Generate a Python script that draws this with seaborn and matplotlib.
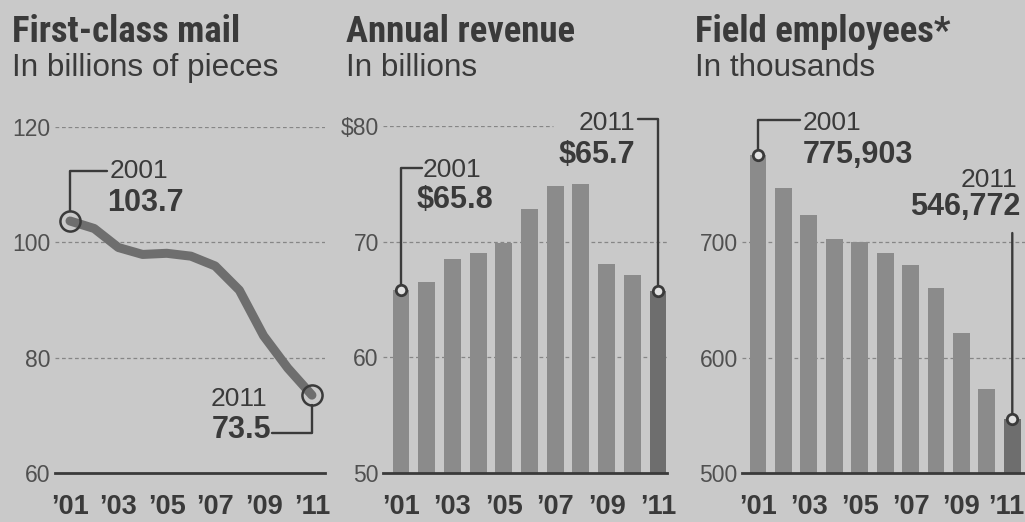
import matplotlib
matplotlib.use("Agg")
import matplotlib.pyplot as plt
import matplotlib.transforms as mtransforms
from matplotlib import font_manager as fm
import seaborn as sns
import pandas as pd

# ---------------- data ----------------
years = list(range(2001, 2012))
first_class_mail = [103.7, 102.4, 99.1, 97.9, 98.1, 97.6, 95.9, 91.7, 83.8, 78.2, 73.5]
annual_revenue = [65.8, 66.5, 68.5, 69.0, 69.9, 72.8, 74.8, 75.0, 68.1, 67.1, 65.7]
field_employees = [775.9, 747.0, 724.0, 702.5, 700.0, 691.0, 680.5, 660.0, 621.0, 572.5, 546.8]

year_tick_labels = ["\u201901", "\u201903", "\u201905", "\u201907", "\u201909", "\u201911"]
titles = ["First-class mail", "Annual revenue", "Field employees*"]
subtitles = ["In billions of pieces", "In billions", "In thousands"]

mail_ticks = [60, 80, 100, 120]
mail_tick_labels = ["60", "80", "100", "120"]
rev_ticks = [50, 60, 70, 80]
rev_tick_labels = ["50", "60", "70", "$80"]
emp_ticks = [500, 600, 700]
emp_tick_labels = ["500", "600", "700"]

mail_callouts = [("2001", "103.7"), ("2011", "73.5")]
rev_callouts = [("2001", "$65.8"), ("2011", "$65.7")]
emp_callouts = [("2001", "775,903"), ("2011", "546,772")]

# ---------------- style ----------------
sns.set_theme(style="white")
avail = {f.name for f in fm.fontManager.ttflist}


def pick(names):
    for n in names:
        if n in avail:
            return n
    return "DejaVu Sans"


REG = pick(["Liberation Sans", "Roboto", "DejaVu Sans"])
NARROW = pick(["Liberation Sans Narrow", "Roboto Condensed", "DejaVu Sans Condensed", "Liberation Sans"])
plt.rcParams["font.family"] = [REG, "DejaVu Sans"]

BG = "#c9c9c9"
INK = "#3a3a3a"
TICKTXT = "#505050"
BAR = "#8b8b8b"
BAR_LAST = "#6e6e6e"
LINE = "#6e6e6e"
GRID = "#868686"

W, H = 1025, 522
fig = plt.figure(figsize=(W / 100, H / 100), dpi=100, facecolor=BG)


def px_axes(l, t, r, b):
    ax = fig.add_axes([l / W, 1 - b / H, (r - l) / W, (b - t) / H])
    ax.set_facecolor(BG)
    return ax


def style_axes(ax, yticks, ylabels, major, minor):
    for s in ["left", "right", "top"]:
        ax.spines[s].set_visible(False)
    ax.spines["bottom"].set_color(INK)
    ax.spines["bottom"].set_linewidth(2)
    ax.spines["bottom"].set_zorder(5)
    ax.set_yticks(yticks)
    ax.set_yticklabels(ylabels)
    ax.tick_params(axis="y", length=0, pad=3, labelsize=16.5, labelcolor=TICKTXT)
    ax.set_xticks(major)
    ax.set_xticks(minor, minor=True)
    ax.set_xticklabels(year_tick_labels)
    ax.tick_params(axis="x", which="major", length=12, width=1.4, color=INK,
                   pad=3, labelsize=19.5, labelcolor=INK)
    ax.tick_params(axis="x", which="minor", length=6, width=1.4, color=INK)
    for lab in ax.get_xticklabels():
        lab.set_fontfamily(REG)
        lab.set_fontweight("bold")
    ax.set_xlabel("")
    ax.set_ylabel("")
    ax.grid(False)


def grid(ax, vals, xmax=1.0):
    for v in vals:
        ax.axhline(v, xmin=0, xmax=xmax, ls=(0, (3, 2.2)), color=GRID, lw=0.9, zorder=0)


def elbow(ax, x, y, dx, dy, shrink):
    ax.annotate("", xy=(x, y), xytext=(dx, dy), textcoords="offset pixels",
                arrowprops=dict(arrowstyle="-", lw=1.7, color=INK, shrinkA=0, shrinkB=shrink,
                                connectionstyle="angle,angleA=0,angleB=90,rad=0"))


def label(ax, x, y, year, value, dx, dy_year, dy_val, ha, vdx=None):
    if vdx is None:
        vdx = dx
    ax.annotate(year, xy=(x, y), xytext=(dx, dy_year), textcoords="offset pixels",
                ha=ha, va="baseline", fontsize=19, color=INK, family=REG)
    ax.annotate(value, xy=(x, y), xytext=(vdx, dy_val), textcoords="offset pixels",
                ha=ha, va="baseline", fontsize=22, color=INK, family=REG, fontweight="bold")


# titles
for xpx, t, s in zip([12, 346, 695], titles, subtitles):
    fig.text(xpx / W, 1 - 42 / H, t, fontsize=26.5, fontweight="bold", family=NARROW,
             color=INK, ha="left", va="baseline")
    fig.text(xpx / W, 1 - 76 / H, s, fontsize=22.7, family=REG, color=INK,
             ha="left", va="baseline")

# ---------------- panel 1: line ----------------
ax1 = px_axes(55, 127, 325, 473)
grid(ax1, [80, 100, 120])
sns.lineplot(x=years, y=first_class_mail, ax=ax1, color=LINE, lw=6.5,
             solid_capstyle="round", solid_joinstyle="round", zorder=3)
ax1.set_xlim(2000.38, 2011.54)
ax1.set_ylim(60, 120)
style_axes(ax1, mail_ticks, mail_tick_labels, years[::2], years[1::2])
ends1 = [(years[0], first_class_mail[0]), (years[-1], first_class_mail[-1])]
for (x, y) in ends1:
    ax1.plot([x], [y], "o", ms=14.5, mfc="none", mec=INK, mew=1.8, zorder=4)
elbow(ax1, *ends1[0], 37, 50, 7.3)
label(ax1, *ends1[0], mail_callouts[0][0], mail_callouts[0][1], 40, 43, 10, "left", 37)
elbow(ax1, *ends1[1], -40, -38, 7.3)
label(ax1, *ends1[1], mail_callouts[1][0], mail_callouts[1][1], -45, -11, -43, "right", -41)

# ---------------- panel 2: revenue bars ----------------
ax2 = px_axes(383, 126, 667, 473)
grid(ax2, [60, 70])
grid(ax2, [80], xmax=0.6)
df2 = pd.DataFrame({"year": [str(y) for y in years], "value": annual_revenue})
sns.barplot(data=df2, x="year", y="value", hue="year", palette=[BAR] * 10 + [BAR_LAST],
            legend=False, ax=ax2, width=0.66, saturation=1, zorder=2, linewidth=0,
            edgecolor="none")
ax2.set_xlim(-0.70, 10.35)
ax2.set_ylim(50, 80)
style_axes(ax2, rev_ticks, rev_tick_labels, list(range(0, 11, 2)), list(range(1, 11, 2)))
ends2 = [(0, annual_revenue[0]), (10, annual_revenue[-1])]
for (x, y) in ends2:
    ax2.plot([x], [y], "o", ms=7.5, mfc="#e2e2e2", mec=INK, mew=2, zorder=6)
elbow(ax2, *ends2[0], 21, 122, 3.6)
label(ax2, *ends2[0], rev_callouts[0][0], rev_callouts[0][1], 22, 113, 82, "left", 16)
elbow(ax2, *ends2[1], -20, 172, 3.6)
label(ax2, *ends2[1], rev_callouts[1][0], rev_callouts[1][1], -23, 161, 128, "right")

# ---------------- panel 3: employees bars ----------------
ax3 = px_axes(742, 127, 1025, 473)
grid(ax3, [600, 700])
df3 = pd.DataFrame({"year": [str(y) for y in years], "value": field_employees})
sns.barplot(data=df3, x="year", y="value", hue="year", palette=[BAR] * 10 + [BAR_LAST],
            legend=False, ax=ax3, width=0.66, saturation=1, zorder=2, linewidth=0,
            edgecolor="none")
ax3.set_xlim(-0.63, 10.5)
ax3.set_ylim(500, 800)
style_axes(ax3, emp_ticks, emp_tick_labels, list(range(0, 11, 2)), list(range(1, 11, 2)))
# the last year label sits a little left so it stays inside the page
last = ax3.get_xticklabels()[-1]
last.set_transform(last.get_transform() + mtransforms.ScaledTranslation(-0.06, 0, fig.dpi_scale_trans))
ends3 = [(0, field_employees[0]), (10, field_employees[-1])]
for (x, y) in ends3:
    ax3.plot([x], [y], "o", ms=7.5, mfc="#e2e2e2", mec=INK, mew=2, zorder=6, clip_on=False)
elbow(ax3, *ends3[0], 42, 35, 3.6)
label(ax3, *ends3[0], emp_callouts[0][0], emp_callouts[0][1], 45, 25, -8, "left")
ax3.annotate("", xy=ends3[1], xytext=(0, 186), textcoords="offset pixels",
             arrowprops=dict(arrowstyle="-", lw=1.7, color=INK, shrinkA=0, shrinkB=3.6))
label(ax3, *ends3[1], emp_callouts[1][0], emp_callouts[1][1], 5, 232, 204, "right", 8)

fig.savefig("out.png", dpi=100, facecolor=BG)
